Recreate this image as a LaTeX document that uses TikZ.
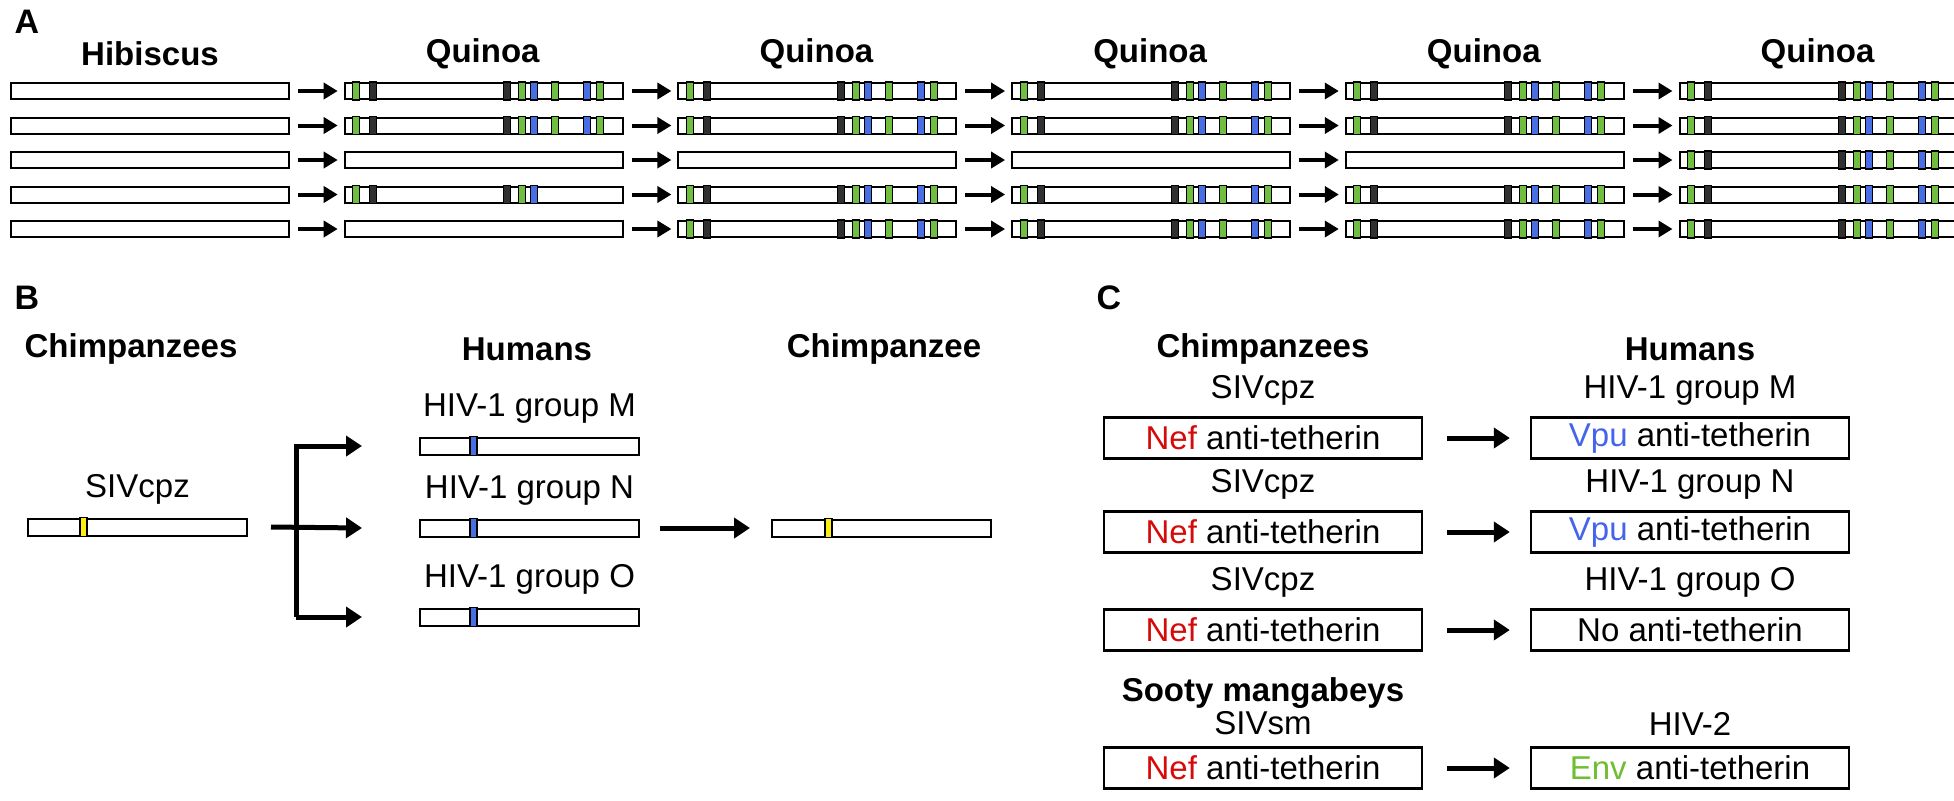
\documentclass[tikz,border=0pt]{standalone}
\usepackage{fontspec}
\setmainfont{Liberation Sans}
\usetikzlibrary{arrows.meta,positioning,calc}

\definecolor{stripegreen}{RGB}{112,190,64}
\definecolor{stripeblue}{RGB}{72,110,228}
\definecolor{stripedark}{RGB}{48,48,48}
\definecolor{stripeyellow}{RGB}{250,238,20}
\definecolor{nefred}{RGB}{215,10,10}
\definecolor{vpublue}{RGB}{70,100,235}
\definecolor{envgreen}{RGB}{110,190,50}

% one coloured band inside a bar: node, offset from its left end, colour
\newcommand{\band}[3]{%
  \draw[fill=#3, line width=0.6pt] ($(#1.south west)+(#2,0)$) rectangle ($(#1.north west)+(#2+7,0)$);}
\newcommand{\shortset}[1]{%
  \band{#1}{9}{stripegreen}\band{#1}{26}{stripedark}\band{#1}{160}{stripedark}%
  \band{#1}{175}{stripegreen}\band{#1}{187}{stripeblue}}
\newcommand{\fullset}[1]{%
  \shortset{#1}\band{#1}{208}{stripegreen}\band{#1}{240}{stripeblue}\band{#1}{253}{stripegreen}}

\begin{document}
\begin{tikzpicture}[x=0.5pt, y=-0.5pt, font=\fontsize{16.5}{19}\selectfont]
  \tikzstyle{bar}=[rectangle, draw, line width=1pt, fill=white, minimum width=139pt, minimum height=8pt, inner sep=0pt, anchor=west]
  \tikzstyle{genome}=[rectangle, draw, line width=1pt, fill=white, minimum width=109.5pt, minimum height=8.5pt, inner sep=0pt, anchor=west]
  \tikzstyle{protein}=[rectangle, draw, line width=1.2pt, minimum width=159pt, minimum height=20.5pt, inner sep=0pt]
  \tikzstyle{hop}=[-{Triangle[length=7pt, width=8pt]}, line width=2pt, shorten <=4pt, shorten >=3pt]
  \tikzstyle{jump}=[-{Triangle[length=8pt, width=10pt]}, line width=2.5pt]
  \tikzstyle{head}=[font=\fontsize{16.5}{19}\selectfont\bfseries]
  \tikzstyle{panel}=[font=\fontsize{17}{19}\selectfont\bfseries]

  \useasboundingbox (0,0) rectangle (1954,800);

  % A
  \node[panel] (labA) at (27,22) {A};
  \node[head] (tHib) at (150,54) {Hibiscus};
  \foreach \c in {1,...,5}
    \node[head] (tQ\c) at ({10+333.7*\c+139},54) {Quinoa};
  \foreach \r in {1,...,5}
    \node[bar] (bar-0-\r) at (10,{91+34.5*(\r-1)}) {};
  \foreach \c/\kinds in {1/{2,2,0,1,0}, 2/{2,2,0,2,2}, 3/{2,2,0,2,2}, 4/{2,2,0,2,2}, 5/{2,2,2,2,2}} {
    \foreach \k [count=\r] in \kinds {
      \node[bar] (bar-\c-\r) at ({10+333.7*\c},{91+34.5*(\r-1)}) {};
      \ifnum\k=1 \shortset{bar-\c-\r}\fi
      \ifnum\k=2 \fullset{bar-\c-\r}\fi
      \pgfmathtruncatemacro{\p}{\c-1}
      \draw[hop] (bar-\p-\r.east) -- (bar-\c-\r.west);
    }
  }

  % B
  \node[panel] (labB) at (27,298) {B};
  \node[head] (tChB) at (131,349) {Chimpanzees};
  \node[head] (tHuB) at (527,349) {Humans};
  \node[head] (tChB2) at (884,349) {Chimpanzee};

  \node[genome] (siv) at (27,527) {};
  \band{siv}{53}{stripeyellow}
  \node[above=3pt of siv] (lsiv) {SIVcpz};
  \node[genome] (hivM) at (419,446) {};
  \node[genome] (hivN) at (419,528) {};
  \node[genome] (hivO) at (419,617) {};
  \foreach \g in {M,N,O} {
    \band{hiv\g}{51}{stripeblue}
    \node[above=3pt of hiv\g] (lhiv\g) {HIV-1 group \g};
  }
  \node[genome] (chimp) at (771,528) {};
  \band{chimp}{54}{stripeyellow}

  \coordinate (split) at (296,528);
  \draw[jump] (split |- hivO.west) -- (split |- hivM.west) -- ([xshift=-28.5pt]hivM.west);
  \draw[jump] (split |- hivO.west) -- ([xshift=-28.5pt]hivO.west);
  \draw[jump] ([xshift=11.5pt]siv.east) -- ([xshift=-28.5pt]hivN.west);
  \draw[jump] ([xshift=10pt]hivN.east) -- ([xshift=-10.5pt]chimp.west);

  % C
  \node[panel] (labC) at (1109,298) {C};
  \node[head] (tChC) at (1263,349) {Chimpanzees};
  \node[head] (tHuC) at (1690,349) {Humans};
  \node[head] (tSooty) at (1263,693) {Sooty mangabeys};

  \node[protein] (nef1) at (1263,438) {{\color{nefred}Nef} anti-tetherin};
  \node[protein] (nef2) at (1263,532) {{\color{nefred}Nef} anti-tetherin};
  \node[protein] (nef3) at (1263,630) {{\color{nefred}Nef} anti-tetherin};
  \node[protein] (nef4) at (1263,768) {{\color{nefred}Nef} anti-tetherin};
  \node[protein] (vpu1) at (1690,438) {{\color{vpublue}Vpu} anti-tetherin};
  \node[protein] (vpu2) at (1690,532) {{\color{vpublue}Vpu} anti-tetherin};
  \node[protein] (none3) at (1690,630) {No anti-tetherin};
  \node[protein] (env4) at (1690,768) {{\color{envgreen}Env} anti-tetherin};

  \node[above=2pt of nef1] {SIVcpz};
  \node[above=2pt of nef2] {SIVcpz};
  \node[above=2pt of nef3] {SIVcpz};
  \node[above=2pt of nef4] {SIVsm};
  \node[above=2pt of vpu1] {HIV-1 group M};
  \node[above=2pt of vpu2] {HIV-1 group N};
  \node[above=2pt of none3] {HIV-1 group O};
  \node[above=2pt of env4] {HIV-2};

  \draw[jump] ([xshift=12pt]nef1.east) -- ([xshift=-10pt]vpu1.west);
  \draw[jump] ([xshift=12pt]nef2.east) -- ([xshift=-10pt]vpu2.west);
  \draw[jump] ([xshift=12pt]nef3.east) -- ([xshift=-10pt]none3.west);
  \draw[jump] ([xshift=12pt]nef4.east) -- ([xshift=-10pt]env4.west);
\end{tikzpicture}
\end{document}
